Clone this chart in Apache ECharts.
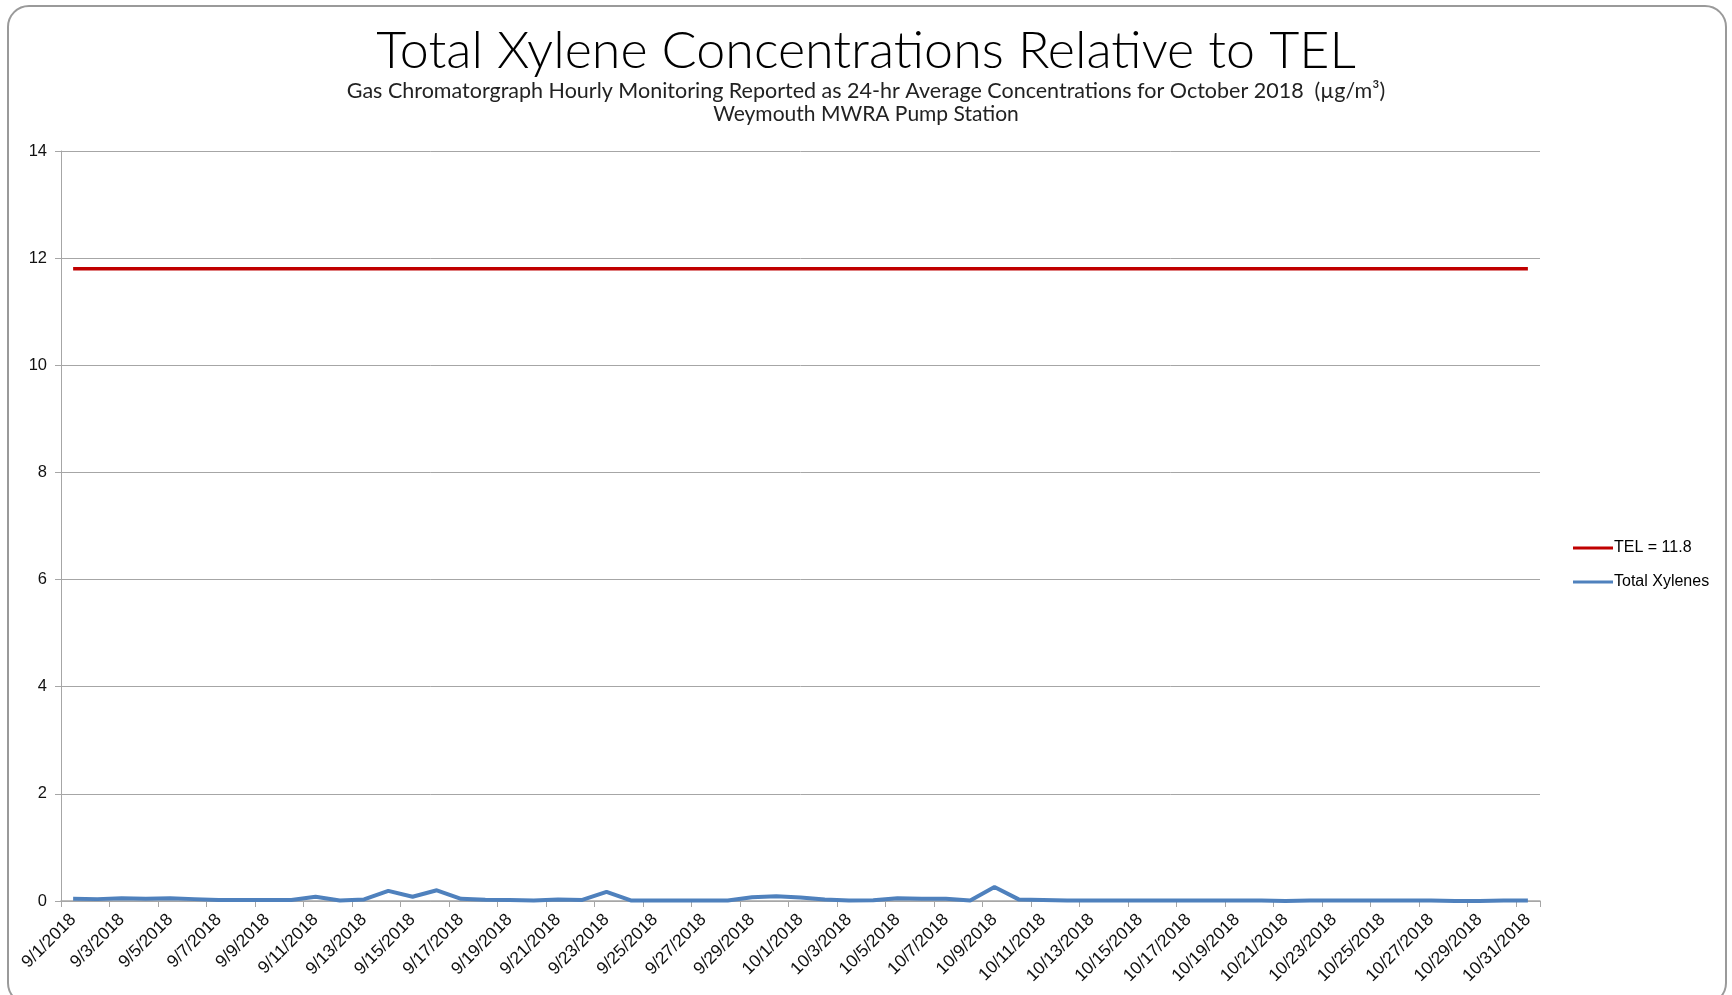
<!DOCTYPE html>
<html>
<head>
<meta charset="utf-8">
<script src="https://cdn.jsdelivr.net/npm/echarts@6/dist/echarts.min.js"></script>
<style>
  html, body { margin: 0; padding: 0; background: #fff; overflow: hidden; }
  #wrap { position: relative; width: 1732px; height: 995px; }
  #chart { position: absolute; left: 0; top: 0; width: 1732px; height: 995px; }
  #frame { position: absolute; left: 7px; top: 5px; width: 1720px; height: 1000px;
           border: 2px solid #9a9a9a; border-radius: 22px; pointer-events: none; box-sizing: border-box; }
</style>
</head>
<body>
<div id="wrap"><div id="chart"></div><div id="frame"></div></div>
<script>
const dates = [
  '9/1/2018','9/2/2018','9/3/2018','9/4/2018','9/5/2018','9/6/2018','9/7/2018','9/8/2018','9/9/2018','9/10/2018',
  '9/11/2018','9/12/2018','9/13/2018','9/14/2018','9/15/2018','9/16/2018','9/17/2018','9/18/2018','9/19/2018','9/20/2018',
  '9/21/2018','9/22/2018','9/23/2018','9/24/2018','9/25/2018','9/26/2018','9/27/2018','9/28/2018','9/29/2018','9/30/2018',
  '10/1/2018','10/2/2018','10/3/2018','10/4/2018','10/5/2018','10/6/2018','10/7/2018','10/8/2018','10/9/2018','10/10/2018',
  '10/11/2018','10/12/2018','10/13/2018','10/14/2018','10/15/2018','10/16/2018','10/17/2018','10/18/2018','10/19/2018','10/20/2018',
  '10/21/2018','10/22/2018','10/23/2018','10/24/2018','10/25/2018','10/26/2018','10/27/2018','10/28/2018','10/29/2018','10/30/2018',
  '10/31/2018'
];
const telValues = [
  11.8,11.8,11.8,11.8,11.8,11.8,11.8,11.8,11.8,11.8,
  11.8,11.8,11.8,11.8,11.8,11.8,11.8,11.8,11.8,11.8,
  11.8,11.8,11.8,11.8,11.8,11.8,11.8,11.8,11.8,11.8,
  11.8,11.8,11.8,11.8,11.8,11.8,11.8,11.8,11.8,11.8,
  11.8,11.8,11.8,11.8,11.8,11.8,11.8,11.8,11.8,11.8,
  11.8,11.8,11.8,11.8,11.8,11.8,11.8,11.8,11.8,11.8,
  11.8
];
const xyleneValues = [
  0.04,0.035,0.05,0.04,0.05,0.035,0.02,0.02,0.02,0.02,
  0.08,0.01,0.03,0.19,0.08,0.20,0.04,0.025,0.02,0.01,
  0.03,0.02,0.17,0.01,0.01,0.01,0.01,0.01,0.07,0.09,
  0.065,0.03,0.01,0.015,0.05,0.04,0.04,0.01,0.26,0.03,
  0.02,0.01,0.01,0.01,0.01,0.01,0.01,0.01,0.01,0.01,
  0.0,0.01,0.01,0.01,0.01,0.01,0.01,0.0,0.0,0.01,
  0.01
];
const yTicks = { min: 0, max: 14, interval: 2 };
const titleText = 'Total Xylene Concentrations Relative to TEL';
const subText1 = 'Gas Chromatorgraph Hourly Monitoring Reported as 24-hr Average Concentrations for October 2018  (\u00b5g/m\u00b3)';
const subText2 = 'Weymouth MWRA Pump Station';

const chart = echarts.init(document.getElementById('chart'), null, { renderer: 'canvas' });
const axisFont = '"Liberation Sans", Arial, sans-serif';
const titleFont = 'Lato, "Noto Sans", sans-serif';
chart.setOption({
  backgroundColor: '#ffffff',
  animation: false,
  title: [
    { text: titleText, left: 'center', top: 20,
      textStyle: { fontFamily: titleFont, fontWeight: 300, fontSize: 52, color: '#000' } },
    { text: subText1, left: 'center', top: 75,
      textStyle: { fontFamily: titleFont, fontWeight: 'normal', fontSize: 21.5, color: '#222' } },
    { text: subText2, left: 'center', top: 99,
      textStyle: { fontFamily: titleFont, fontWeight: 'normal', fontSize: 21, color: '#222' } }
  ],
  legend: {
    orient: 'vertical', left: 1568, top: 535, itemWidth: 40, itemHeight: 14, itemGap: 18,
    data: [
      { name: 'TEL = 11.8', icon: 'path://M0,6 L40,6 L40,9 L0,9 Z' },
      { name: 'Total Xylenes', icon: 'path://M0,6 L40,6 L40,9 L0,9 Z' }
    ],
    textStyle: { fontFamily: axisFont, fontSize: 16, color: '#000', padding: [0, 0, 0, -4] }
  },
  grid: { left: 61, right: 192, top: 151, bottom: 94, containLabel: false },
  xAxis: {
    type: 'category', data: dates, boundaryGap: true,
    axisLine: { show: true, lineStyle: { color: '#a6a6a6', width: 1.5 } },
    axisTick: { show: true, interval: 1, length: 6, lineStyle: { color: '#a6a6a6' } },
    axisLabel: { interval: 1, rotate: 45, fontFamily: axisFont, fontSize: 17.5, color: '#111', margin: 16 },
    splitLine: { show: false }
  },
  yAxis: {
    type: 'value', min: yTicks.min, max: yTicks.max, interval: yTicks.interval,
    axisLine: { show: true, lineStyle: { color: '#a6a6a6', width: 1 } },
    axisTick: { show: true, length: 6, lineStyle: { color: '#a6a6a6' } },
    axisLabel: { fontFamily: axisFont, fontSize: 16.5, color: '#111', margin: 14 },
    splitLine: { show: true, lineStyle: { color: '#a6a6a6', width: 1 } }
  },
  series: [
    { name: 'TEL = 11.8', type: 'line', data: telValues, symbol: 'none',
      lineStyle: { color: '#C00000', width: 3.5 }, itemStyle: { color: '#C00000' } },
    { name: 'Total Xylenes', type: 'line', data: xyleneValues, symbol: 'none',
      lineStyle: { color: '#4F81BD', width: 4 }, itemStyle: { color: '#4F81BD' } }
  ]
});
</script>
</body>
</html>
